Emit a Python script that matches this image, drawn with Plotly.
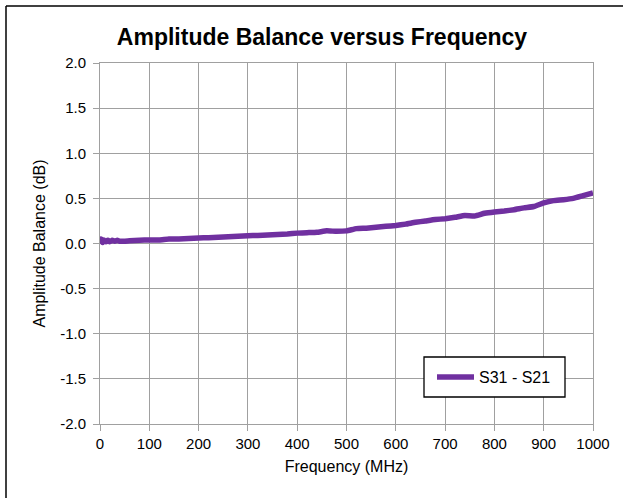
import plotly.graph_objects as go

freq_mhz = [0, 2, 5, 8, 12, 16, 20, 25, 30, 35, 40, 60, 80, 100, 120, 140, 160, 180, 200,
            220, 240, 260, 280, 300, 320, 340, 360, 380, 400, 420, 440, 460, 480, 500,
            520, 540, 560, 580, 600, 620, 640, 660, 680, 700, 720, 740, 760, 780, 800,
            820, 840, 860, 880, 900, 920, 940, 960, 980, 1000]
balance_db = [0.0, 0.05, 0.01, 0.04, 0.02, 0.035, 0.02, 0.035, 0.025, 0.035, 0.025, 0.03,
              0.035, 0.04, 0.04, 0.05, 0.05, 0.055, 0.062, 0.065, 0.07, 0.075, 0.08, 0.085,
              0.09, 0.095, 0.1, 0.105, 0.115, 0.12, 0.125, 0.14, 0.135, 0.14, 0.165, 0.17,
              0.18, 0.19, 0.2, 0.215, 0.235, 0.25, 0.265, 0.275, 0.29, 0.31, 0.305, 0.335,
              0.35, 0.36, 0.375, 0.395, 0.41, 0.45, 0.475, 0.485, 0.5, 0.53, 0.56]
series_name = "S31 - S21"
x_ticks = [0, 100, 200, 300, 400, 500, 600, 700, 800, 900, 1000]
y_ticks = [-2.0, -1.5, -1.0, -0.5, 0.0, 0.5, 1.0, 1.5, 2.0]

W, H = 623, 498
L, R, T, B = 100, 30, 63, 74
pw, ph = W - L - R, H - T - B


def px_x(p):
    return (p - L) / pw


def px_y(p):
    return (H - B - p) / ph


fig = go.Figure()
fig.add_trace(go.Scatter(
    x=freq_mhz, y=balance_db, mode="lines", name=series_name,
    line=dict(color="#7030A0", width=5.5, shape="spline", smoothing=0.4),
    showlegend=True,
))

font = "Liberation Sans, Arial, sans-serif"
axis_common = dict(
    showgrid=True, gridcolor="#a0a0a0", gridwidth=1,
    showline=True, linecolor="#a0a0a0", linewidth=1, mirror=True,
    ticks="outside", ticklen=6, tickcolor="#a0a0a0",
    tickfont=dict(family=font, size=15, color="#000"),
    zeroline=False,
)

fig.update_layout(
    width=W, height=H,
    margin=dict(l=L, r=R, t=T, b=B, autoexpand=False),
    paper_bgcolor="white", plot_bgcolor="white",
    title=dict(text="<b>Amplitude Balance versus Frequency</b>",
               font=dict(family=font, size=23, color="#000"),
               x=322 / W, xanchor="center", y=1 - 37 / H, yanchor="middle"),
    xaxis=dict(range=[0, 1000], tickvals=x_ticks,
               ticktext=[str(v) for v in x_ticks],
               title=dict(text="Frequency (MHz)", font=dict(family=font, size=16, color="#000"),
                          standoff=9),
               **axis_common),
    yaxis=dict(range=[-2, 2], tickvals=y_ticks,
               ticktext=[f"{v:.1f}" for v in y_ticks],
               ticklabelstandoff=4,
               title=dict(text="Amplitude Balance (dB)", font=dict(family=font, size=16, color="#000"),
                          standoff=10),
               **axis_common),
    legend=dict(x=px_x(432), y=px_y(377), xanchor="left", yanchor="middle",
                bgcolor="rgba(0,0,0,0)", borderwidth=0, itemwidth=37,
                font=dict(family=font, size=16, color="#000")),
    shapes=[
        dict(type="rect", xref="paper", yref="paper", layer="above",
             x0=px_x(424), x1=px_x(565), y0=px_y(357), y1=px_y(397),
             fillcolor="white", line=dict(color="#000", width=1.3)),
        dict(type="line", xref="paper", yref="paper",
             x0=px_x(6), x1=px_x(W + 5), y0=px_y(6), y1=px_y(6),
             line=dict(color="#000", width=1.5)),
        dict(type="line", xref="paper", yref="paper",
             x0=px_x(6), x1=px_x(6), y0=px_y(6), y1=px_y(H + 5),
             line=dict(color="#000", width=1.5)),
    ],
)

fig.write_html("out.html", config={"displayModeBar": False},
               post_script="document.body.style.margin='0';")
